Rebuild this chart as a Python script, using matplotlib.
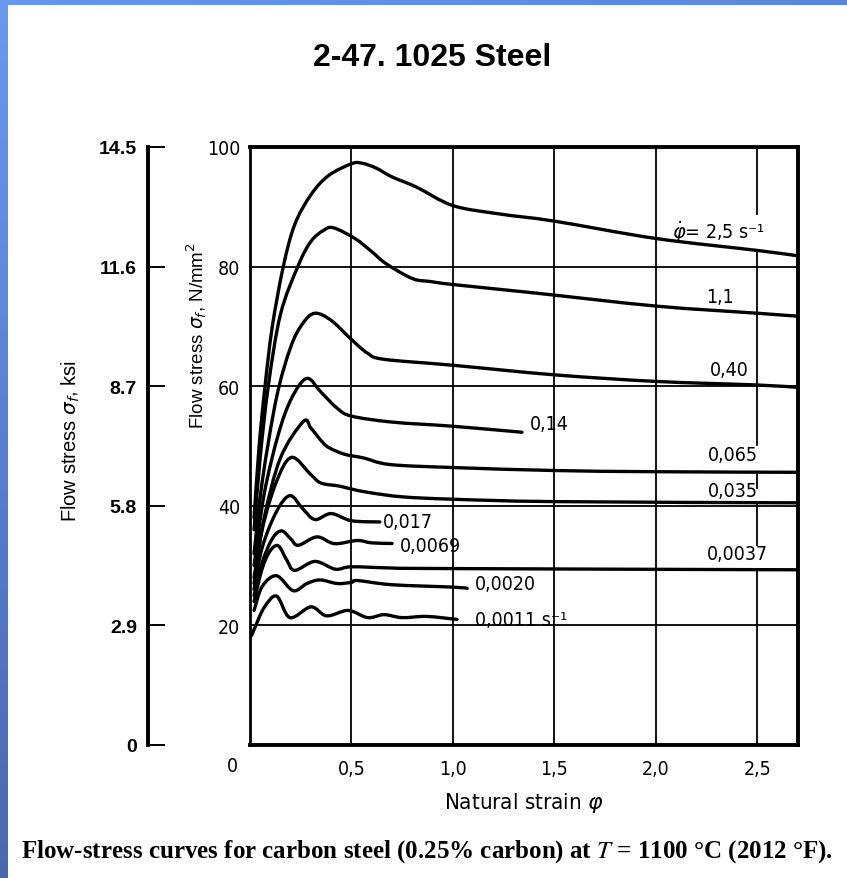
import numpy as np
import matplotlib
matplotlib.use("Agg")
import matplotlib.pyplot as plt
from matplotlib.path import Path
from matplotlib.patches import PathPatch

# flow curves: (strain, stress N/mm^2)
rates = ["2.5", "1.1", "0.40", "0.14", "0.065", "0.035", "0.017",
         "0.0069", "0.0037", "0.0020", "0.0011"]

strain_25 = [0.02, 0.045, 0.074, 0.11, 0.164, 0.22, 0.30, 0.386, 0.50, 0.55,
             0.62, 0.70, 0.82, 1.0, 1.23, 1.5, 2.0, 2.5, 2.7]
stress_25 = [38, 50, 60, 70, 80, 87, 92, 95.2, 97.2, 97.3,
             96.5, 95, 93.3, 90.2, 88.8, 87.6, 84.7, 82.7, 81.8]

strain_11 = [0.02, 0.05, 0.09, 0.15, 0.238, 0.30, 0.36, 0.41, 0.517, 0.60,
             0.67, 0.80, 0.89, 1.0, 1.4, 2.0, 2.5, 2.7]
stress_11 = [36, 48, 60, 72, 80.2, 84.2, 86, 86.5, 84.7, 82.5,
             80.5, 78, 77.5, 77, 75.6, 73.4, 72.2, 71.7]

strain_040 = [0.02, 0.06, 0.13, 0.20, 0.26, 0.32, 0.40, 0.50, 0.58, 0.66,
              1.0, 1.5, 2.0, 2.5, 2.7]
stress_040 = [32, 44, 58, 66.5, 70.5, 72.2, 71, 67.8, 65.5, 64.5,
              63.5, 61.9, 60.8, 60.2, 59.8]

strain_014 = [0.02, 0.07, 0.14, 0.205, 0.28, 0.35, 0.43, 0.50, 0.70, 1.0, 1.34]
stress_014 = [30, 42, 52, 58, 61.3, 59, 56.3, 55, 54, 53.3, 52.3]

strain_0065 = [0.02, 0.07, 0.15, 0.263, 0.30, 0.353, 0.39, 0.468, 0.56, 0.69,
               1.0, 1.5, 2.0, 2.7]
stress_0065 = [28, 38, 48, 54.1, 53, 50.8, 49.7, 48.6, 48, 46.9,
               46.4, 45.9, 45.7, 45.6]

strain_0035 = [0.02, 0.06, 0.13, 0.205, 0.30, 0.35, 0.44, 0.50, 0.59, 0.75,
               1.0, 1.5, 2.7]
stress_0035 = [27, 36, 44, 48.1, 45.2, 43.8, 43.3, 42.8, 42.2, 41.5,
               41.1, 40.7, 40.5]

strain_0017 = [0.02, 0.06, 0.13, 0.197, 0.26, 0.32, 0.40, 0.50, 0.64]
stress_0017 = [26, 33, 39, 41.7, 39.5, 37.7, 38.7, 37.5, 37.3]

strain_00069 = [0.02, 0.06, 0.11, 0.156, 0.20, 0.238, 0.328, 0.40, 0.44, 0.53,
                0.60, 0.70]
stress_00069 = [25, 30.5, 34.5, 35.8, 34.5, 33.4, 34.8, 33.8, 33.7, 34.2,
                33.8, 33.7]

strain_00037 = [0.02, 0.06, 0.10, 0.14, 0.18, 0.22, 0.32, 0.42, 0.50, 0.70,
                1.0, 2.7]
stress_00037 = [24, 29.5, 32.5, 33.3, 31, 29.2, 30.7, 29.4, 29.8, 29.6,
                29.5, 29.3]

strain_00020 = [0.02, 0.06, 0.131, 0.213, 0.28, 0.345, 0.43, 0.50, 0.53,
                0.70, 1.0, 1.07]
stress_00020 = [22.5, 26.5, 28.3, 25.8, 27, 27.6, 27.0, 27.2, 27.5,
                26.8, 26.4, 26.2]

strain_00011 = [0.008, 0.025, 0.07, 0.131, 0.197, 0.30, 0.378, 0.484, 0.58,
                0.66, 0.75, 0.87, 1.02]
stress_00011 = [18.3, 19.7, 23, 24.9, 21.3, 23.1, 21.6, 22.5, 21.3,
                21.8, 21.3, 21.5, 21]

curves = [(strain_25, stress_25), (strain_11, stress_11), (strain_040, stress_040),
          (strain_014, stress_014), (strain_0065, stress_0065),
          (strain_0035, stress_0035), (strain_0017, stress_0017),
          (strain_00069, stress_00069), (strain_00037, stress_00037),
          (strain_00020, stress_00020), (strain_00011, stress_00011)]

curve_labels = [r"$\dot{\varphi}$" + "= 2,5 s⁻¹", "1,1", "0,40", "0,14", "0,065",
                "0,035", "0,017", "0,0069", "0,0037", "0,0020", "0,0011 s⁻¹"]
label_x = [2.08, 2.315, 2.36, 1.38, 2.38, 2.38, 0.655, 0.74, 2.40, 1.11, 1.11]
label_y = [86.0, 75.0, 62.8, 53.8, 48.5, 42.5, 37.3, 33.3, 32.0, 27.0, 21.0]
label_ha = ["left", "center", "center", "left", "center", "center", "left",
            "left", "center", "left", "left"]

x_ticks = [0.5, 1.0, 1.5, 2.0, 2.5]
x_tick_labels = ["0,5", "1,0", "1,5", "2,0", "2,5"]
y_ticks = [20, 40, 60, 80, 100]
ksi_ticks = [0, 2.9, 5.8, 8.7, 11.6, 14.5]

plt.rcParams["font.family"] = ["Liberation Sans", "DejaVu Sans"]
# narrow lettering used inside the chart
NARROW = dict(family="DejaVu Sans", fontstretch="condensed")


def smooth_path(xs, ys):
    # Catmull-Rom through the points, emitted as cubic Bezier segments
    p = np.column_stack([xs, ys]).astype(float)
    ext = np.vstack([p[0], p, p[-1]])
    verts = [p[0]]
    codes = [Path.MOVETO]
    for i in range(1, len(ext) - 2):
        p0, p1, p2, p3 = ext[i - 1], ext[i], ext[i + 1], ext[i + 2]
        c1 = p1 + (p2 - p0) / 6.0
        c2 = p2 - (p3 - p1) / 6.0
        verts += [c1, c2, p2]
        codes += [Path.CURVE4] * 3
    return Path(verts, codes)


fig = plt.figure(figsize=(8.47, 8.79), dpi=100)
W, H = 847.0, 879.0

# blue slide frame along the left and top edges
left_bar = fig.add_axes([0, 0, 8 / W, 1])
left_bar.imshow(np.linspace(0, 1, 100).reshape(-1, 1), aspect="auto",
                cmap=matplotlib.colors.LinearSegmentedColormap.from_list(
                    "lb", ["#6a98ee", "#4a68b2"]), extent=[0, 1, 0, 1])
left_bar.axis("off")
top_bar = fig.add_axes([0, 1 - 6 / H, 1, 6 / H])
top_bar.imshow(np.linspace(0, 1, 100).reshape(1, -1), aspect="auto",
               cmap=matplotlib.colors.LinearSegmentedColormap.from_list(
                   "tb", ["#6a98ee", "#5a86dc"]), extent=[0, 1, 0, 1])
top_bar.axis("off")

x0, x1, y0, y1 = 250, 798, 148, 746
ax = fig.add_axes([x0 / W, 1 - y1 / H, (x1 - x0) / W, (y1 - y0) / H])
ax.set_xlim(0, 2.7)
ax.set_ylim(0, 100)

# grid
for yv in [20, 40, 60, 80]:
    ax.plot([0, 2.7], [yv, yv], color="black", lw=1.3, zorder=1)
for xv in [0.5, 1.0, 1.5, 2.0]:
    ax.plot([xv, xv], [0, 100], color="black", lw=1.3, zorder=1)
# the 2.5 line is broken where the rate labels sit
for ya, yb in [(100, 88.8), (82.7, 50.2), (45.5, 43.0), (40.5, 33.5), (29.3, 0)]:
    ax.plot([2.5, 2.5], [ya, yb], color="black", lw=1.3, zorder=1)

for xs, ys in curves:
    ax.add_patch(PathPatch(smooth_path(xs, ys), fill=False, edgecolor="black",
                           lw=2.4, capstyle="round", joinstyle="round", zorder=3))

for txt, lx, ly, ha in zip(curve_labels, label_x, label_y, label_ha):
    ax.text(lx, ly, txt, ha=ha, va="center", fontsize=14, zorder=4, **NARROW)

for side, lw in [("top", 2.8), ("bottom", 2.8), ("left", 2.0), ("right", 2.8)]:
    ax.spines[side].set_linewidth(lw)

ax.set_xticks(x_ticks)
ax.set_xticklabels(x_tick_labels, fontsize=14, **NARROW)
ax.set_yticks(y_ticks)
ax.set_yticklabels([str(v) for v in y_ticks], fontsize=14, **NARROW)
ax.tick_params(axis="both", length=0)
ax.tick_params(axis="x", pad=10)
ax.tick_params(axis="y", pad=7)
ax.text(-0.022, -0.018, "0", transform=ax.transAxes, ha="right", va="top",
        fontsize=14, **NARROW)
ax.set_xlabel(r"Natural strain $\varphi$", fontsize=16, labelpad=9, **NARROW)
ax.set_ylabel(r"Flow stress $\sigma_f$, N/mm$^2$", fontsize=13.5)
ax.yaxis.set_label_coords(-0.075, 0.687)

# secondary ksi scale on the far left
ksi = fig.add_axes([148 / W, 1 - y1 / H, 0.0001, (y1 - y0) / H])
ksi.set_ylim(0, 14.5)
ksi.set_xticks([])
for side in ["top", "bottom", "right"]:
    ksi.spines[side].set_visible(False)
ksi.spines["left"].set_linewidth(2.8)
ksi.set_yticks(ksi_ticks)
ksi.set_yticklabels([f"{v:g}" for v in ksi_ticks], fontsize=14, fontweight="bold")
ksi.tick_params(axis="y", direction="in", length=12, width=1.4, pad=8)
ksi.set_ylabel(r"Flow stress $\sigma_f$, ksi", fontsize=14.5)
ksi.yaxis.set_label_coords(-780, 0.51)

fig.text(432 / W, 1 - 58 / H, "2-47. 1025 Steel", ha="center", va="center",
         fontsize=23, fontweight="bold")
fig.text(427 / W, 1 - 852 / H,
         r"Flow-stress curves for carbon steel (0.25% carbon) at $\mathit{T}$ = 1100 °C (2012 °F).",
         ha="center", va="center", fontsize=18, fontweight="bold",
         family="Liberation Serif", math_fontfamily="stix")

fig.savefig("out.png", dpi=100, facecolor="white")
